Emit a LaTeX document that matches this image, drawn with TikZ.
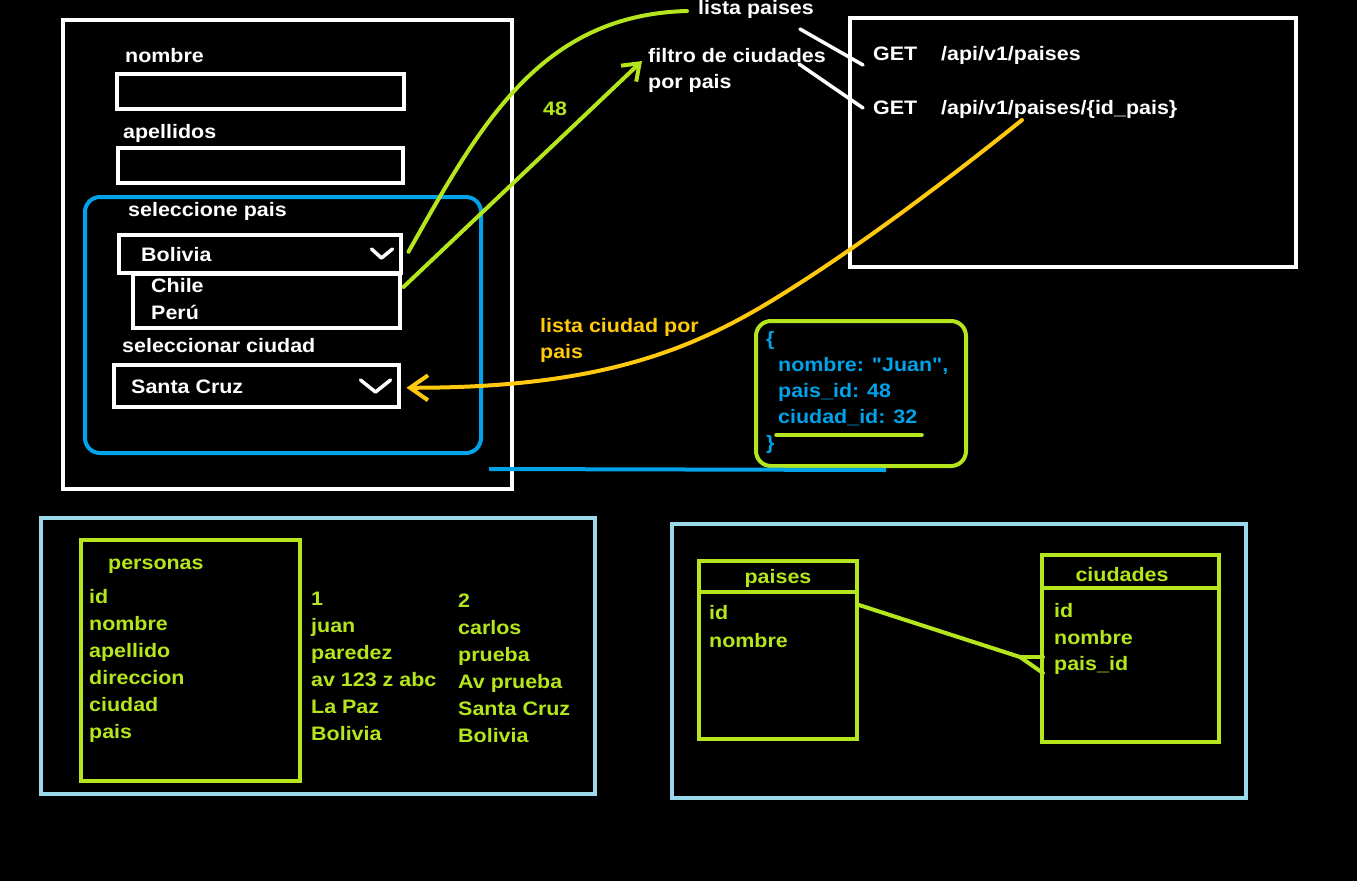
\documentclass[tikz,border=0pt]{standalone}
\usepackage{fontspec}
\setmainfont{Liberation Sans}[FakeStretch=1.1]
\newfontfamily\jsonfont{Liberation Sans}[FakeStretch=1.1, Ligatures=TeXOff]
\usetikzlibrary{arrows.meta,calc}
\definecolor{cgreen}{HTML}{B5E61D}
\definecolor{cblue}{HTML}{00A2E8}
\definecolor{clblue}{HTML}{99D9EA}
\definecolor{corange}{HTML}{FFC90E}
\begin{document}
\begin{tikzpicture}[x=1pt,y=-1pt,
  every node/.style={font=\fontsize{19.5}{22}\selectfont\bfseries, inner sep=0pt},
  box/.style={draw=white, line width=3.5pt, anchor=north west, minimum width=#1},
  gbox/.style={draw=cgreen, line width=4pt, anchor=north west},
  lbbox/.style={draw=clblue, line width=4pt, anchor=north west},
  wtxt/.style={text=white, anchor=mid west, yshift=-3pt},
  gtxt/.style={text=cgreen, anchor=mid west, yshift=-3pt},
  btxt/.style={text=cblue, anchor=mid west, yshift=-3pt, font=\jsonfont\fontsize{19.5}{22}\selectfont\bfseries},
  otxt/.style={text=corange, anchor=mid west, yshift=-3pt},
  wline/.style={draw=white, line width=3.5pt, line cap=round},
  gline/.style={draw=cgreen, line width=4pt, line cap=round},
  oline/.style={draw=corange, line width=4pt, line cap=round},
  chev/.style={draw=white, line width=3.5pt, line cap=round, line join=round}
]
\fill[black] (0,0) rectangle (1357,881);
\useasboundingbox (0,0) rectangle (1357,881);

% ---------------- form ----------------
\node[box=449pt, minimum height=469pt] (form) at (61,18) {};
\node[wtxt] (lnombre) at (125,57) {nombre};
\node[box=287pt, minimum height=35pt] (inombre) at (115,72) {};
\node[wtxt] (lapell) at (123,133) {apellidos};
\node[box=285pt, minimum height=35pt] (iapell) at (116,146) {};

\node[draw=cblue, line width=4pt, rounded corners=15pt, anchor=north west,
      minimum width=396pt, minimum height=256pt] (grp) at (83,195) {};
\node[wtxt] (lpais) at (128,211) {seleccione pais};
\node[box=282pt, minimum height=38pt] (bol) at (117,233) {};
\node[wtxt] (tbol) at (141,256) {Bolivia};
\draw[chev] ($(bol.north east)+(-31,16)$) -- ++(10,9) -- ++(11,-9);
\node[box=267pt, minimum height=54pt] (dd) at (131,272) {};
\node[wtxt] (tchile) at (151,287) {Chile};
\node[wtxt] (tperu) at (151,314) {Perú};
\node[wtxt] (lciudad) at (122,347) {seleccionar ciudad};
\node[box=285pt, minimum height=42pt] (sc) at (112,363) {};
\node[wtxt] (tsc) at (131,388) {Santa Cruz};
\draw[chev] ($(sc.north east)+(-40,17)$) -- ++(15,12) -- ++(15,-12);

% ---------------- API ----------------
\node[box=446pt, minimum height=249pt] (api) at (848,16) {};
\node[wtxt] (get1) at (873,55) {GET};
\node[wtxt] (path1) at (941,55) {/api/v1/paises};
\node[wtxt] (get2) at (873,109) {GET};
\node[wtxt] (path2) at (941,109) {/api/v1/paises/\{id\_pais\}};

\node[wtxt] (lp) at (698,9) {lista paises};
\node[wtxt] (filtro) at (648,57) {filtro de ciudades};
\node[wtxt] (porpais) at (648,83) {por pais};
\node[gtxt] (n48) at (543,110) {48};

\coordinate (w1a) at (800,29);
\coordinate (w2a) at (799,64);
\draw[wline] (w1a) -- ($(get1.mid west)+(-10,7)$);
\draw[wline] (w2a) -- ($(get2.mid west)+(-10,-4)$);

% green connectors
\draw[gline] ($(bol.east)+(6,-2)$) .. controls (480,125) and (540,15) .. ($(lp.mid west)+(-11,-1)$);
\draw[gline, -{Straight Barb[length=15pt, width=22pt]}] ($(dd.north east)+(2,15)$) -- ($(filtro.mid west)+(-6,1)$);

% orange connector
\coordinate (ostart) at (1022,120);
\coordinate (omid) at (800,283);
\coordinate (oend) at ($(sc.east)+(6,2)$);
\draw[oline, -{Straight Barb[length=18pt, width=25pt]}] (ostart) .. controls (950,178) and (870,238) .. (omid) .. controls (710,341) and (620,388) .. (oend);
\node[otxt] (lcp1) at (540,327) {lista ciudad por};
\node[otxt] (lcp2) at (540,353) {pais};

% JSON
\node[draw=cgreen, line width=4pt, rounded corners=15pt, anchor=north west,
      minimum width=210pt, minimum height=145pt] (json) at (754,319) {};
\node[btxt] (jo) at (766,340) {\{};
\node[btxt] (j1) at (778,366) {nombre: "Juan",};
\node[btxt] (j2) at (778,392) {pais\_id: 48};
\node[btxt] (j3) at (778,418) {ciudad\_id: 32};
\node[btxt] (jc) at (766,444) {\}};
\draw[gline, line width=3.5pt] ($(j3.mid west)+(-2,14)$) -- ++(146,0);

% blue line
\coordinate (bl1) at (489,469);
\coordinate (bl2) at (886,470);
\draw[draw=cblue, line width=4pt] (bl1) -- (bl2);

% ---------------- personas ----------------
\node[lbbox, minimum width=554pt, minimum height=276pt] (pouter) at (39,516) {};
\node[gbox, minimum width=219pt, minimum height=241pt] (ptab) at (79,538) {};
\node[gtxt] (ptitle) at (108,564) {personas};
\foreach \t [count=\i from 0] in {id,nombre,apellido,direccion,ciudad,pais}
  \node[gtxt] (pf\i) at (89,598+27*\i) {\t};
\foreach \t [count=\i from 0] in {1,juan,paredez,av 123 z abc,La Paz,Bolivia}
  \node[gtxt] (pa\i) at (311,600+27*\i) {\t};
\foreach \t [count=\i from 0] in {2,carlos,prueba,Av prueba,Santa Cruz,Bolivia}
  \node[gtxt] (pb\i) at (458,602+27*\i) {\t};

% ---------------- ER ----------------
\node[lbbox, minimum width=574pt, minimum height=274pt] (erouter) at (670,522) {};
\node[gbox, minimum width=158pt, minimum height=178pt] (paises) at (697,559) {};
\draw[gline, line cap=butt] ($(paises.north west)+(0,33)$) -- ($(paises.north east)+(0,33)$);
\node[text=cgreen, yshift=-3pt] (tpaises) at (778,575) {paises};
\node[gtxt] (pid) at (709,614) {id};
\node[gtxt] (pnom) at (709,642) {nombre};

\node[gbox, minimum width=177pt, minimum height=187pt] (ciudades) at (1040,553) {};
\draw[gline, line cap=butt] ($(ciudades.north west)+(0,35)$) -- ($(ciudades.north east)+(0,35)$);
\node[text=cgreen, yshift=-3pt] (tciud) at (1122,572) {ciudades};
\node[gtxt] (cid) at (1054,612) {id};
\node[gtxt] (cnom) at (1054,639) {nombre};
\node[gtxt] (cpid) at (1054,665) {pais\_id};

\coordinate (crow) at (1020,657);
\draw[gline] ($(paises.north east)+(0,46)$) -- (crow);
\draw[gline] (crow) -- ($(ciudades.north west)+(3,104)$);
\draw[gline] (crow) -- ($(ciudades.north west)+(3,120)$);
\end{tikzpicture}
\end{document}
